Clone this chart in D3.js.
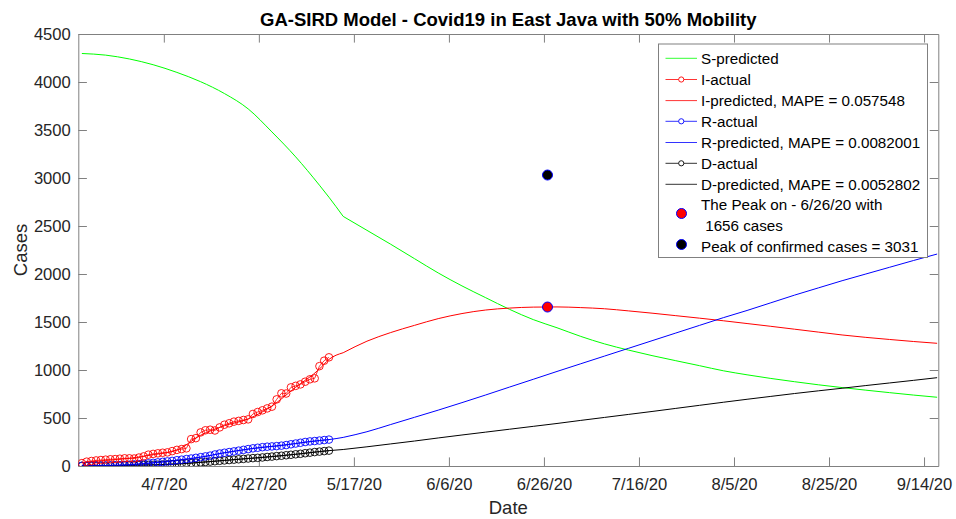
<!DOCTYPE html>
<html>
<head>
<meta charset="utf-8">
<script src="https://cdn.jsdelivr.net/npm/d3@7"></script>
<style>
  html, body { margin: 0; padding: 0; background: #fff; }
  svg { display: block; font-family: Arial, "Liberation Sans", Helvetica, sans-serif; }
</style>
</head>
<body>
<svg id="chart" width="956" height="519"></svg>
<script>
// ---------------- DATA ----------------
const title = "GA-SIRD Model - Covid19 in East Java with 50% Mobility";
const xLabel = "Date";
const yLabel = "Cases";
const startDate = "2020-03-20";      // day 0
const endDate = "2020-09-17";        // right edge of axis
const xTickDates = ["2020-04-07","2020-04-27","2020-05-17","2020-06-06","2020-06-26","2020-07-16","2020-08-05","2020-08-25","2020-09-14"];
const yTicks = [0,500,1000,1500,2000,2500,3000,3500,4000,4500];

// actual data: day index 0..52
const actualDays = d3.range(0, 53);
const iActual = [30,45,52,58,62,66,70,72,76,80,80,78,88,100,118,126,132,138,142,155,168,176,184,280,290,350,372,378,370,402,430,445,462,470,479,486,542,562,580,600,618,694,757,755,819,835,850,878,903,913,1040,1097,1132];
const rActual = [2,2,3,3,4,5,6,7,8,10,13,17,20,24,28,33,38,43,48,53,60,66,72,78,85,92,100,108,120,130,138,145,152,160,168,176,184,190,196,201,204,207,212,218,226,234,242,250,256,260,265,270,275];
const dActual = [0,0,1,1,2,2,3,4,5,6,7,8,9,10,11,12,13,15,17,19,21,24,27,30,34,38,42,46,50,54,58,62,66,70,74,78,82,85,89,94,98,103,107,112,117,122,127,133,139,145,150,155,160];

// predicted: sampled days (model switches regime on day 55)
const switchDay = 55;
const predDays = [0,5,10,15,20,25,30,35,40,45,50,52,55,60,65,70,75,80,85,90,95,100,105,110,115,120,125,130,135,140,145,150,155,160,165,170,175,180];
const sPred = [4297,4280,4240,4180,4100,4003,3880,3720,3480,3220,2925,2800,2600,2455,2310,2160,2011,1876,1753,1632,1525,1440,1350,1272,1208,1150,1097,1045,992,950,912,878,846,817,790,764,739,716];
const iPred = [35,58,80,118,165,320,420,490,625,820,1010,1110,1180,1300,1390,1465,1535,1588,1625,1645,1655,1657,1650,1638,1616,1592,1566,1540,1513,1484,1455,1425,1395,1365,1340,1318,1297,1278];
const rPred = [2,5,13,33,60,92,138,176,204,234,265,275,298,357,432,507,582,660,740,822,903,985,1065,1145,1225,1305,1385,1465,1545,1620,1700,1780,1855,1930,2000,2070,2140,2208];
const dPred = [0,2,7,12,21,38,58,78,98,122,150,160,172,200,230,260,292,323,353,383,413,443,475,506,537,568,600,632,664,695,725,755,783,810,838,865,892,920];

const peakDay = 98;          // 6/26/20
const peakValue = 1656;
const confirmedPeak = 3031;

const legendLabels = ["S-predicted","I-actual","I-predicted, MAPE = 0.057548","R-actual","R-predicted, MAPE = 0.0082001","D-actual","D-predicted, MAPE = 0.0052802","The Peak on - 6/26/20 with","Peak of confirmed cases = 3031"];

// ---------------- DRAW ----------------
const svg = d3.select("#chart");
const W = 956, H = 519;
const m = {left: 78.3, right: 938.3, top: 34, bottom: 466};
const axisColor = "#808080", textColor = "#262626";
const dayMs = 86400000;
const t0 = new Date(startDate + "T00:00:00Z");
const t1 = new Date(endDate + "T00:00:00Z");
const dayOffset = 0.75;   // samples sit 18h after midnight
const toDate = d => new Date(t0.getTime() + (d + dayOffset) * dayMs);

const x = d3.scaleUtc().domain([t0, t1]).range([m.left, m.right]);
const y = d3.scaleLinear().domain([0, 4500]).range([m.bottom, m.top]);

svg.append("rect").attr("width", W).attr("height", H).attr("fill", "#fff");

const tickLen = 8.6;
const xTickVals = xTickDates.map(s => new Date(s + "T00:00:00Z"));
const fmt = d3.utcFormat("%-m/%-d/%y");

const gx = svg.append("g").attr("transform", `translate(0,${m.bottom})`)
  .call(d3.axisBottom(x).tickValues(xTickVals).tickFormat(fmt).tickSizeInner(-tickLen).tickSizeOuter(0));
const gy = svg.append("g").attr("transform", `translate(${m.left},0)`)
  .call(d3.axisLeft(y).tickValues(yTicks).tickFormat(d3.format("d")).tickSizeInner(-tickLen).tickSizeOuter(0));
const gt = svg.append("g").attr("transform", `translate(0,${m.top})`)
  .call(d3.axisTop(x).tickValues(xTickVals).tickFormat("").tickSizeInner(-tickLen).tickSizeOuter(0));
const gr = svg.append("g").attr("transform", `translate(${m.right},0)`)
  .call(d3.axisRight(y).tickValues(yTicks).tickFormat("").tickSizeInner(-tickLen).tickSizeOuter(0));

[gx, gy, gt, gr].forEach(g => {
  g.select(".domain").attr("stroke", axisColor).attr("stroke-width", 1);
  g.selectAll(".tick line").attr("stroke", axisColor).attr("stroke-width", 1);
  g.selectAll(".tick text").attr("fill", textColor).attr("font-size", 16.6).attr("font-family", "Arial, 'Liberation Sans', sans-serif");
});
gx.selectAll(".tick text").attr("dy", "0.71em").attr("y", 12.5);
gy.selectAll(".tick text").attr("x", -7.5).attr("dy", "0.32em");

const clip = svg.append("clipPath").attr("id", "clip").append("rect")
  .attr("x", m.left).attr("y", m.top).attr("width", m.right - m.left).attr("height", m.bottom - m.top);
const plot = svg.append("g").attr("clip-path", "url(#clip)");

const line = d3.line().x(d => x(toDate(d[0]))).y(d => y(d[1])).curve(d3.curveMonotoneX);
const series = [
  {vals: sPred, color: "#00ff00"},
  {vals: iPred, color: "#ff0000"},
  {vals: rPred, color: "#0000ff"},
  {vals: dPred, color: "#000000"}
];
series.forEach(s => {
  const pts = predDays.map((d, i) => [d, s.vals[i]]);
  const seg1 = pts.filter(p => p[0] <= switchDay);
  const seg2 = pts.filter(p => p[0] >= switchDay);
  const p = d3.path ? null : null;
  plot.append("path").attr("d", line(seg1) + line(seg2).replace(/^M/, "L"))
    .attr("fill", "none").attr("stroke", s.color).attr("stroke-width", 1).attr("stroke-linejoin", "round");
});

const actual = [
  {vals: dActual, color: "#000000"},
  {vals: rActual, color: "#0000ff"},
  {vals: iActual, color: "#ff0000"}
];
const lineLin = d3.line().x(d => x(toDate(d[0]))).y(d => y(d[1]));
actual.forEach(s => {
  const pts = actualDays.map((d, i) => [d, s.vals[i]]);
  plot.append("path").datum(pts).attr("d", lineLin).attr("fill", "none").attr("stroke", s.color).attr("stroke-width", 0.8);
  plot.selectAll(null).data(pts).enter().append("circle")
    .attr("cx", d => x(toDate(d[0]))).attr("cy", d => y(d[1])).attr("r", 3.8)
    .attr("fill", "none").attr("stroke", s.color).attr("stroke-width", 0.9);
});

svg.append("circle").attr("cx", x(toDate(peakDay))).attr("cy", y(peakValue)).attr("r", 5)
  .attr("fill", "#ff0000").attr("stroke", "#0000ff").attr("stroke-width", 1);
svg.append("circle").attr("cx", x(toDate(peakDay))).attr("cy", y(confirmedPeak)).attr("r", 5)
  .attr("fill", "#000000").attr("stroke", "#0000ff").attr("stroke-width", 1);

svg.append("text").attr("x", (m.left + m.right) / 2).attr("y", 26).attr("text-anchor", "middle")
  .attr("font-weight", "bold").attr("font-size", 18.5).attr("fill", "#000").text(title);
svg.append("text").attr("x", (m.left + m.right) / 2).attr("y", 514).attr("text-anchor", "middle")
  .attr("font-size", 18.5).attr("fill", textColor).text(xLabel);
svg.append("text").attr("transform", `translate(27,${(m.top + m.bottom) / 2}) rotate(-90)`).attr("text-anchor", "middle")
  .attr("font-size", 18.5).attr("fill", textColor).text(yLabel);

const lg = svg.append("g");
lg.append("rect").attr("x", 658.5).attr("y", 44).attr("width", 269).attr("height", 213.5)
  .attr("fill", "#fff").attr("stroke", axisColor).attr("stroke-width", 1);
const rowsY = [58.3, 79.5, 100.6, 121.3, 142.5, 163.3, 184.3];
const legendStyle = [
  {color: "#00ff00", marker: false},
  {color: "#ff0000", marker: true},
  {color: "#ff0000", marker: false},
  {color: "#0000ff", marker: true},
  {color: "#0000ff", marker: false},
  {color: "#000000", marker: true},
  {color: "#000000", marker: false}
];
const lx0 = 665.5, lx1 = 697, ltx = 701, lfs = 15.2;
rowsY.forEach((ry, i) => {
  const st = legendStyle[i];
  lg.append("line").attr("x1", lx0).attr("x2", lx1).attr("y1", ry).attr("y2", ry)
    .attr("stroke", st.color).attr("stroke-width", 1).attr("stroke-opacity", 0.8);
  if (st.marker) {
    lg.append("circle").attr("cx", (lx0 + lx1) / 2).attr("cy", ry).attr("r", 2.6)
      .attr("fill", "#fff").attr("stroke", st.color).attr("stroke-width", 0.9);
  }
  lg.append("text").attr("x", ltx).attr("y", ry).attr("dy", "0.35em").attr("font-size", lfs)
    .attr("fill", "#000").text(legendLabels[i]);
});
lg.append("circle").attr("cx", 681.5).attr("cy", 213.5).attr("r", 5).attr("fill", "#ff0000").attr("stroke", "#0000ff").attr("stroke-width", 1);
lg.append("text").attr("x", ltx).attr("y", 205).attr("dy", "0.35em").attr("font-size", lfs).attr("fill", "#000").text(legendLabels[7]);
lg.append("text").attr("x", ltx).attr("y", 225.3).attr("dy", "0.35em").attr("font-size", lfs).attr("fill", "#000")
  .attr("xml:space", "preserve").style("white-space", "pre").text(" " + peakValue + " cases");
lg.append("circle").attr("cx", 681.5).attr("cy", 244.5).attr("r", 5).attr("fill", "#000000").attr("stroke", "#0000ff").attr("stroke-width", 1);
lg.append("text").attr("x", ltx).attr("y", 246.7).attr("dy", "0.35em").attr("font-size", lfs).attr("fill", "#000").text(legendLabels[8]);
</script>
</body>
</html>
